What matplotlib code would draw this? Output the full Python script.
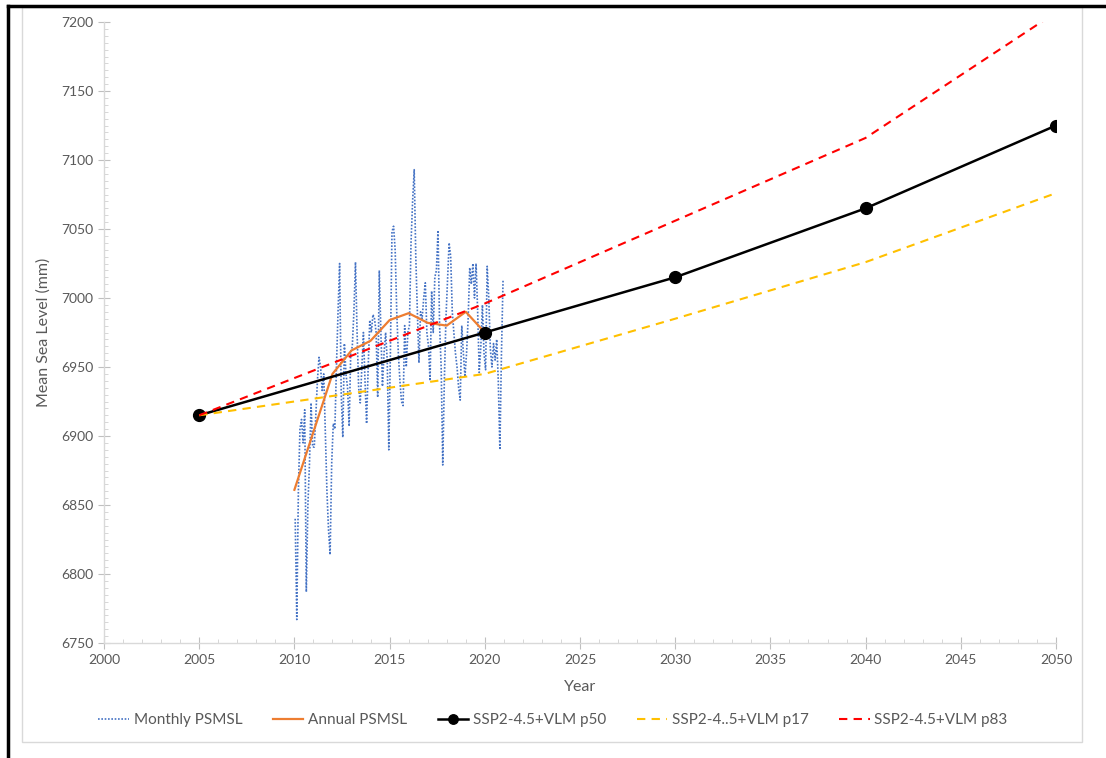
import numpy as np
import matplotlib
matplotlib.use('Agg')
import matplotlib.pyplot as plt
from matplotlib.ticker import MultipleLocator
from matplotlib.patches import Rectangle
from matplotlib.lines import Line2D

plt.rcParams['font.family'] = ['Lato', 'DejaVu Sans']

# monthly PSMSL, Jan 2010 - Dec 2020 (mm)
monthly_2010 = [6840, 6767, 6860, 6905, 6912, 6895, 6919, 6787, 6850, 6880, 6924, 6892]
monthly_2011 = [6892, 6915, 6940, 6957, 6950, 6933, 6945, 6902, 6860, 6832, 6814, 6880]
monthly_2012 = [6909, 6905, 6950, 6990, 7025, 6931, 6899, 6967, 6945, 6935, 6907, 6960]
monthly_2013 = [6965, 6990, 7026, 6975, 6935, 6924, 6950, 6975, 6940, 6909, 6950, 6984]
monthly_2014 = [6975, 6988, 6985, 6975, 6928, 7020, 6975, 6936, 6960, 6975, 6955, 6890]
monthly_2015 = [6960, 7048, 7052, 7035, 6990, 6960, 6940, 6925, 6922, 6980, 6950, 6975]
monthly_2016 = [6980, 7040, 7070, 7093, 7030, 6990, 6953, 6990, 6985, 7000, 7011, 6975]
monthly_2017 = [6965, 6940, 7005, 6975, 7015, 7020, 7049, 6980, 6950, 6879, 6940, 6985]
monthly_2018 = [7013, 7040, 7030, 6990, 6975, 6960, 6950, 6935, 6926, 6980, 6960, 6943]
monthly_2019 = [6960, 6985, 7022, 7010, 7025, 7000, 7025, 6990, 6946, 6965, 6995, 6960]
monthly_2020 = [6948, 7023, 7000, 6963, 6950, 6967, 6955, 6970, 6940, 6890, 6960, 7013]
monthly_msl = (monthly_2010 + monthly_2011 + monthly_2012 + monthly_2013 + monthly_2014 +
               monthly_2015 + monthly_2016 + monthly_2017 + monthly_2018 + monthly_2019 +
               monthly_2020)
monthly_t = 2010 + (np.arange(len(monthly_msl)) + 0.5) / 12

annual_years = [2010, 2011, 2012, 2013, 2014, 2015, 2016, 2017, 2018, 2019, 2020]
annual_msl = [6861, 6903, 6945, 6962, 6969, 6984, 6989, 6982, 6980, 6990, 6975]

proj_years = [2005, 2020, 2030, 2040, 2050]
p50 = [6915, 6975, 7015, 7065, 7125]
p17 = [6915, 6945, 6985, 7026, 7076]
p83 = [6915, 6996, 7056, 7116, 7207]

fig = plt.figure(figsize=(11.06, 7.58), dpi=100)
ax = fig.add_axes([104/1106, 1 - 643/758, (1056 - 104)/1106, (643 - 22)/758])

ax.plot(monthly_t, monthly_msl, color='#4472C4', lw=1.2, linestyle=(0, (1, 1)),
        label='Monthly PSMSL')
ax.plot(annual_years, annual_msl, color='#ED7D31', lw=1.6, label='Annual PSMSL')
ax.plot(proj_years, p50, color='black', lw=1.8, marker='o', markersize=8.5,
        label='SSP2-4.5+VLM p50')
ax.plot(proj_years, p17, color='#FFC000', lw=1.5, linestyle=(0, (4, 3)),
        label='SSP2-4..5+VLM p17')
ax.plot(proj_years, p83, color='#FF0000', lw=1.5, linestyle=(0, (4, 3)),
        label='SSP2-4.5+VLM p83')

ax.set_xlim(2000, 2050)
ax.set_ylim(6750, 7200)
ax.xaxis.set_major_locator(MultipleLocator(5))
ax.xaxis.set_minor_locator(MultipleLocator(1))
ax.yaxis.set_major_locator(MultipleLocator(50))
ax.yaxis.set_minor_locator(MultipleLocator(5))

for s in ['top', 'right']:
    ax.spines[s].set_visible(False)
for s in ['left', 'bottom']:
    ax.spines[s].set_color('#d9d9d9')
    ax.spines[s].set_linewidth(1.0)

ax.tick_params(which='major', direction='inout', length=8, color='#bfbfbf',
               labelcolor='#595959', labelsize=10)
ax.tick_params(which='minor', direction='in', length=3, color='#d0d0d0')
ax.tick_params(axis='x', which='major', pad=4)

ax.set_xlabel('Year', fontsize=11.5, color='#595959', labelpad=10)
ax.set_ylabel('Mean Sea Level (mm)', fontsize=11.5, color='#595959', labelpad=8)

fig.legend(loc='center', bbox_to_anchor=(0.5, 1 - 720/758), ncol=5, frameon=False,
           fontsize=11, labelcolor='#595959', handlelength=2.0, handletextpad=0.3,
           columnspacing=2.0, markerscale=0.8)

# chart frame and outer border
fig.patches.append(Rectangle((22/1106, 1 - 742/758), (1082 - 22)/1106, (742 - 7)/758,
                             transform=fig.transFigure, fill=False,
                             edgecolor='#d9d9d9', lw=1.0))
fig.lines.append(Line2D([8/1106, 8/1106], [0, 1 - 6/758], transform=fig.transFigure,
                        color='black', lw=2.5))
fig.lines.append(Line2D([8/1106, 1], [1 - 6/758, 1 - 6/758], transform=fig.transFigure,
                        color='black', lw=2.5))

fig.savefig('out.png', dpi=100)
